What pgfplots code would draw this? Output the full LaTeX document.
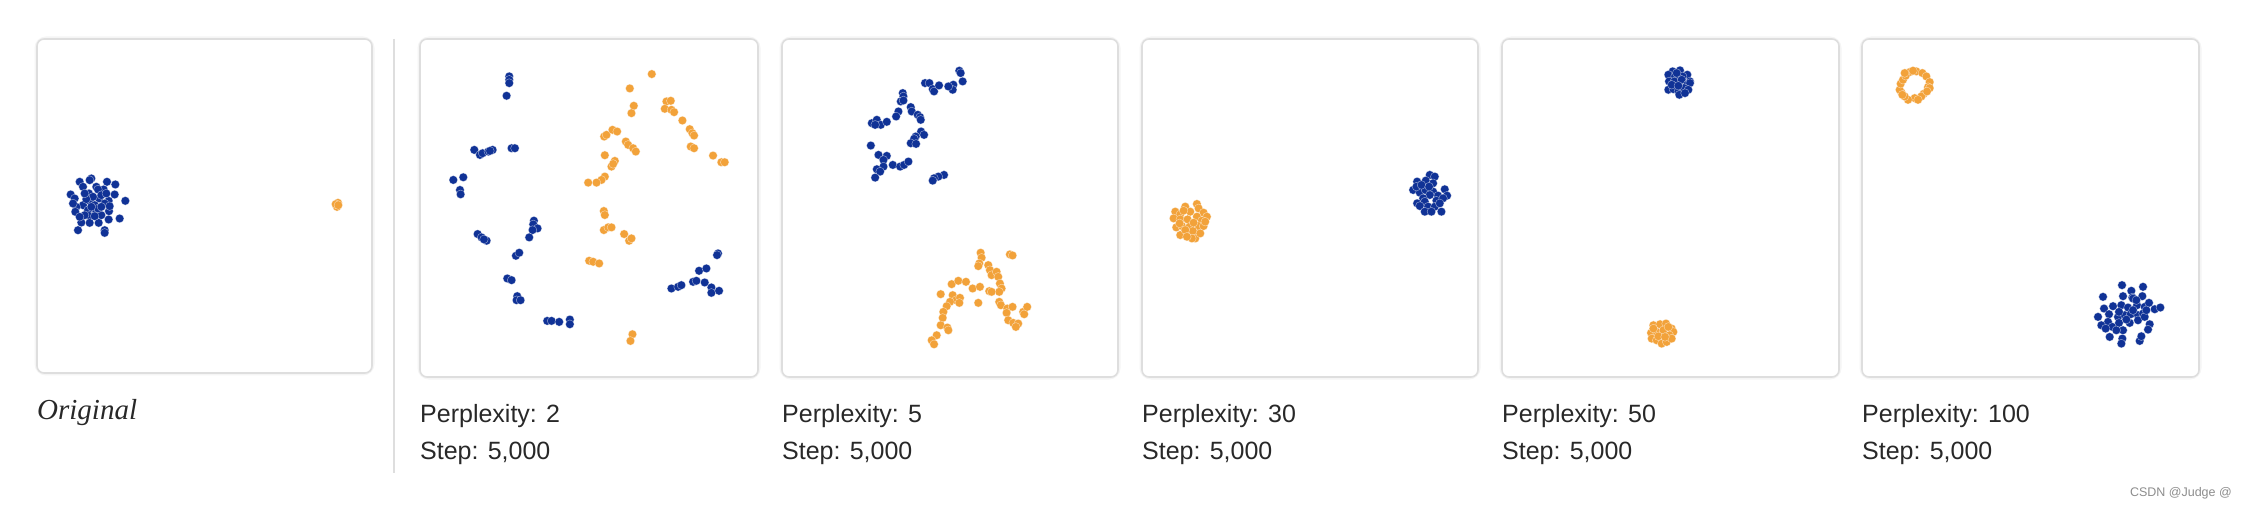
\documentclass[border=0pt]{standalone}
\usepackage{pgfplots}
\pgfplotsset{compat=1.18}
\usepackage{fontspec}
\setmainfont{Liberation Sans}
\newfontfamily\serifit{Liberation Serif}
\definecolor{tblue}{RGB}{16,50,150}
\definecolor{torange}{RGB}{242,162,58}
\definecolor{framegray}{RGB}{222,222,222}
\definecolor{txtgray}{RGB}{40,40,40}
\pgfplotsset{
  panel/.style={scale only axis, width=336pt, height=336pt, axis line style={draw=none},
    ticks=none, y dir=reverse, clip=false, anchor=north west},
  bl/.style={only marks, mark=*, mark size=4.3pt, mark options={fill=tblue, draw=white, draw opacity=0.55, line width=0.45pt}},
  orr/.style={only marks, mark=*, mark size=4.3pt, mark options={fill=torange, draw=white, draw opacity=0.55, line width=0.45pt}},
}
\tikzset{frame/.style={draw=framegray, line width=1.6pt, rounded corners=7pt},
  shadow/.style={draw=black!4, line width=5pt, rounded corners=9pt}}
\begin{document}
\begin{tikzpicture}[x=1pt,y=1pt]
\useasboundingbox (0pt,0pt) rectangle (2246pt,508pt);
% panel 1: Original
\begin{axis}[panel, at={(37pt,469pt)}, width=335pt, height=334pt, xmin=22, xmax=1027, ymin=27, ymax=1028]
\draw[shadow] (rel axis cs:0,0) rectangle (rel axis cs:1,1);
\draw[frame, fill=white] (rel axis cs:0,0) rectangle (rel axis cs:1,1);
\addplot[bl] coordinates {(150,455) (185,445) (180,450) (232,455) (257,463) (160,470) (200,470) (222,478) (178,490) (205,478) (123,493) (255,493) (135,505) (208,505) (237,512) (287,512) (180,512) (160,525) (195,525) (225,520) (140,530) (175,540) (200,545) (238,543) (178,557) (215,555) (137,545) (270,565) (237,568) (155,577) (180,578) (207,578) (145,600) (225,600) (225,608) (190,500) (215,495) (165,555) (240,528) (130,520) (170,507) (205,535) (185,530) (150,560) (230,490) (195,558) (215,530) (165,490)};
\addplot[orr] coordinates {(920,525) (925,518) (922,530) (918,522) (926,525)};
\end{axis}
% panel 2
\begin{axis}[panel, at={(420pt,469pt)}, width=338pt, height=338pt, xmin=30, xmax=1045, ymin=28, ymax=1040]
\draw[shadow] (rel axis cs:0,0) rectangle (rel axis cs:1,1);
\draw[frame, fill=white] (rel axis cs:0,0) rectangle (rel axis cs:1,1);
\addplot[bl] coordinates {(298,140) (298,150) (298,160) (290,198) (193,360) (210,375) (218,370) (235,365) (248,360) (240,363) (305,355) (315,355) (130,450) (160,442) (150,480) (152,493) (203,612) (215,622) (230,632) (222,628) (372,572) (370,583) (383,595) (368,600) (358,622) (318,677) (328,668) (292,745) (305,750) (322,798) (320,810) (332,810) (412,872) (425,872) (448,875) (480,868) (480,882) (925,670) (922,675) (868,722) (890,715) (850,755) (860,752) (885,757) (905,772) (905,788) (928,782) (785,775) (805,770) (815,765)};
\addplot[orr] coordinates {(726,133) (660,176) (672,228) (665,250) (770,215) (783,213) (765,237) (785,240) (793,247) (818,272) (840,298) (848,310) (853,317) (843,350) (853,355) (910,377) (935,397) (945,397) (583,320) (590,315) (608,300) (622,305) (648,335) (655,345) (670,355) (678,365) (585,376) (615,393) (605,410) (610,402) (585,440) (575,450) (560,458) (535,458) (582,543) (585,555) (582,600) (595,592) (605,592) (643,612) (658,632) (665,625) (538,692) (550,695) (568,700) (668,912) (662,932)};
\end{axis}
% panel 3
\begin{axis}[panel, at={(782pt,469pt)}, width=336pt, height=338pt, xmin=35, xmax=1045, ymin=28, ymax=1040]
\draw[shadow] (rel axis cs:0,0) rectangle (rel axis cs:1,1);
\draw[frame, fill=white] (rel axis cs:0,0) rectangle (rel axis cs:1,1);
\addplot[bl] coordinates {(568,123) (572,130) (578,155) (550,165) (548,180) (535,170) (465,160) (478,160) (488,178) (492,185) (507,167) (398,190) (400,200) (392,215) (400,212) (385,245) (378,260) (422,232) (425,245) (443,255) (450,262) (452,270) (305,280) (320,270) (332,285) (350,276) (315,285) (453,305) (462,315) (437,320) (432,327) (422,340) (438,342) (302,347) (325,375) (350,378) (340,390) (340,410) (368,405) (390,410) (402,405) (415,395) (320,418) (330,425) (315,443) (522,435) (505,440) (492,445) (488,452)};
\addplot[orr] coordinates {(632,668) (635,683) (628,700) (625,708) (655,705) (660,720) (665,735) (680,725) (685,740) (690,760) (695,775) (688,785) (720,673) (728,676) (545,762) (565,752) (588,755) (608,775) (630,770) (658,783) (665,785) (512,792) (548,795) (558,810) (570,803) (568,818) (540,815) (530,828) (520,845) (518,863) (512,885) (532,892) (535,900) (500,915) (485,930) (492,942) (625,818) (688,815) (693,825) (712,835) (728,830) (710,848) (715,870) (730,878) (745,880) (738,890) (760,845) (763,852) (772,830)};
\end{axis}
% panel 4
\begin{axis}[panel, at={(1142pt,469pt)}, width=336pt, height=338pt, xmin=35, xmax=1045, ymin=28, ymax=1040]
\draw[shadow] (rel axis cs:0,0) rectangle (rel axis cs:1,1);
\draw[frame, fill=white] (rel axis cs:0,0) rectangle (rel axis cs:1,1);
\addplot[orr] coordinates {(135,545) (150,553) (165,530) (180,545) (200,522) (205,535) (220,548) (230,560) (130,565) (150,568) (172,568) (200,560) (215,572) (138,592) (155,588) (178,590) (205,588) (220,588) (150,615) (175,610) (188,603) (195,625) (165,600) (185,625) (148,580) (190,578) (160,542) (210,610) (170,620) (225,575)};
\addplot[bl] coordinates {(900,435) (915,440) (862,455) (888,452) (910,460) (850,480) (870,488) (887,480) (910,485) (945,478) (952,497) (925,497) (900,495) (880,505) (862,520) (885,515) (920,512) (940,505) (870,528) (895,530) (915,530) (885,545) (935,545) (905,545) (860,470) (930,520) (875,465) (898,470)};
\end{axis}
% panel 5
\begin{axis}[panel, at={(1502pt,469pt)}, width=337pt, height=338pt, xmin=35, xmax=1048, ymin=28, ymax=1040]
\draw[shadow] (rel axis cs:0,0) rectangle (rel axis cs:1,1);
\draw[frame, fill=white] (rel axis cs:0,0) rectangle (rel axis cs:1,1);
\addplot[bl] coordinates {(548,125) (570,122) (592,135) (535,135) (555,140) (578,140) (600,155) (537,155) (553,155) (575,150) (592,165) (600,160) (535,180) (550,178) (565,185) (582,175) (595,180) (568,195) (545,165) (565,168) (585,190) (560,130)};
\addplot[orr] coordinates {(490,885) (510,882) (528,880) (545,895) (550,905) (483,908) (500,905) (520,900) (538,915) (485,925) (500,930) (515,940) (530,935) (545,925) (505,918) (525,920) (490,895) (535,890)};
\end{axis}
% panel 6
\begin{axis}[panel, at={(1862pt,469pt)}, width=337pt, height=338pt, xmin=37, xmax=1048, ymin=28, ymax=1040]
\draw[shadow] (rel axis cs:0,0) rectangle (rel axis cs:1,1);
\draw[frame, fill=white] (rel axis cs:0,0) rectangle (rel axis cs:1,1);
\addplot[orr] coordinates {(180,127) (200,125) (218,130) (230,140) (240,157) (235,172) (240,175) (222,192) (215,200) (195,205) (175,210) (165,200) (155,188) (150,180) (153,162) (160,150) (168,138) (190,123) (205,210) (232,185) (158,195) (165,130)};
\addplot[bl] coordinates {(817,765) (880,770) (845,782) (760,800) (820,798) (848,802) (878,798) (790,828) (815,825) (835,832) (862,825) (885,830) (898,818) (915,837) (932,832) (763,835) (745,860) (778,852) (805,860) (825,855) (843,852) (865,855) (880,850) (775,875) (755,885) (788,890) (808,878) (820,900) (840,878) (865,870) (900,882) (895,898) (780,920) (818,925) (815,940) (870,932) (875,918) (808,845) (850,840) (800,900) (830,868) (885,860) (768,895) (850,805) (860,810) (890,840)};
\end{axis}
% separator
\draw[framegray, line width=1.5pt] (394pt,469pt) -- (394pt,35pt);
% labels
\node[anchor=base west, inner sep=0, text=txtgray, font=\serifit\itshape\fontsize{29}{34}\selectfont] at (37pt,88pt) {Original};
\foreach \x/\p in {420/2, 782/5, 1142/30, 1502/50, 1862/100}{
  \node[anchor=base west, inner sep=0, text=txtgray, font=\fontsize{25}{30}\selectfont] at (\x pt,85pt) {Perplexity: \p};
  \node[anchor=base west, inner sep=0, text=txtgray, font=\fontsize{25}{30}\selectfont] at (\x pt,48pt) {Step: 5,000};
}
\node[anchor=base east, inner sep=0, text=black!45, font=\fontsize{12.5}{15}\selectfont] at (2232pt,11pt) {CSDN @Judge @};
\end{tikzpicture}
\end{document}
